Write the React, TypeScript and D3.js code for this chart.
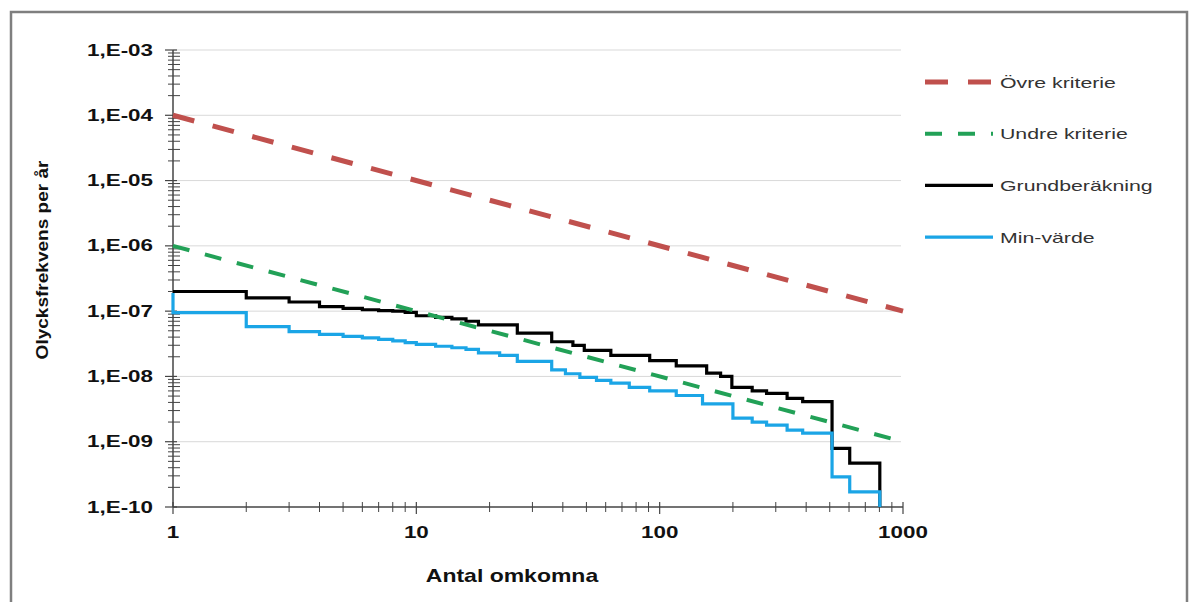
import * as d3 from "d3";
import { useEffect, useRef } from "react";

// kriterielinjer (antal omkomna -> frekvens per år)
const kriterieN = [1, 1000];
const ovreKriterie = [1e-4, 1e-7];
const undreKriterie = [1e-6, 1e-9];

// Grundberäkning, trappsteg (N där steget börjar, frekvens)
const grundN = [1, 2, 3, 4, 5, 6, 7, 8, 9, 10, 12, 14, 16, 18, 26, 36, 44, 49, 63, 91, 117, 156, 178, 198, 240, 275, 334, 387, 511, 604, 803];
const grundF = [2.0e-7, 1.6e-7, 1.38e-7, 1.17e-7, 1.1e-7, 1.05e-7, 1.02e-7, 1.0e-7, 9.6e-8, 8.5e-8, 8.0e-8, 7.6e-8, 7.0e-8, 6.15e-8, 4.6e-8, 3.4e-8, 3.0e-8, 2.5e-8, 2.1e-8, 1.75e-8, 1.45e-8, 1.12e-8, 1.0e-8, 6.8e-9, 6.0e-9, 5.5e-9, 4.6e-9, 4.1e-9, 7.9e-10, 4.7e-10, 1e-10];

// Min-värde
const minN = [1, 1, 2, 3, 4, 5, 6, 7, 8, 9, 10, 12, 14, 16, 18, 22, 26, 36, 41, 47, 55, 63, 75, 91, 117, 150, 200, 240, 275, 334, 387, 511, 604, 803];
const minF = [1.9e-7, 9.5e-8, 5.8e-8, 4.85e-8, 4.4e-8, 4.1e-8, 3.9e-8, 3.7e-8, 3.5e-8, 3.3e-8, 3.1e-8, 2.9e-8, 2.75e-8, 2.6e-8, 2.3e-8, 2.1e-8, 1.7e-8, 1.26e-8, 1.1e-8, 9.7e-9, 8.7e-9, 7.9e-9, 6.8e-9, 6.0e-9, 5.1e-9, 3.8e-9, 2.3e-9, 2.0e-9, 1.8e-9, 1.5e-9, 1.35e-9, 2.9e-10, 1.7e-10, 1e-10];

// axlar
const xTicks = [1, 10, 100, 1000];
const xTickLabels = ["1", "10", "100", "1000"];
const yTicks = [1e-10, 1e-9, 1e-8, 1e-7, 1e-6, 1e-5, 1e-4, 1e-3];
const yTickLabels = ["1,E-10", "1,E-09", "1,E-08", "1,E-07", "1,E-06", "1,E-05", "1,E-04", "1,E-03"];

const legendLabels = ["Övre kriterie", "Undre kriterie", "Grundberäkning", "Min-värde"];

const FONT = "'Liberation Sans', Arial, Helvetica, sans-serif";

const App = () => {
    const chartRef = useRef<SVGSVGElement>(null);

    useEffect(() => {
        const svg = d3.select(chartRef.current);
        svg.selectAll("*").remove();

        // plotområdets kanter
        const margin = { top: 50, bottom: 507, left: 173, right: 903 };

        const scaleX = d3.scaleLog().domain([1, 1000]).range([margin.left, margin.right]);
        const scaleY = d3.scaleLog().domain([1e-10, 1e-3]).range([margin.bottom, margin.top]);

        // text som är lite utdragen i bredd, som i förlagan
        const addText = (x: number, y: number, txt: string, size: number, weight: string, anchor: string, sx: number, fill = "#111") =>
            svg.append("text")
                .attr("transform", `translate(${x},${y}) scale(${sx},1)`)
                .attr("text-anchor", anchor)
                .style("font-family", FONT)
                .style("font-size", `${size}px`)
                .style("font-weight", weight)
                .style("fill", fill)
                .text(txt);

        // ram
        svg.append("rect")
            .attr("x", 11).attr("y", 12)
            .attr("width", 1176).attr("height", 620)
            .style("fill", "white")
            .style("stroke", "#7f7f7f")
            .style("stroke-width", 2.5);

        // stödlinjer
        svg.append("g")
            .selectAll("line")
            .data(yTicks.slice(1))
            .enter()
            .append("line")
            .attr("x1", margin.left).attr("x2", margin.right - 2)
            .attr("y1", d => scaleY(d)).attr("y2", d => scaleY(d))
            .style("stroke", "#d9d9d9")
            .style("stroke-width", 1);

        // y-axel
        const axisColor = "#444";
        svg.append("line")
            .attr("x1", margin.left).attr("x2", margin.left)
            .attr("y1", margin.top).attr("y2", margin.bottom)
            .style("stroke", axisColor).style("stroke-width", 1.5);

        const yMinor = scaleY.ticks().filter(t => !yTicks.some(m => Math.abs(m - t) / m < 1e-6));
        svg.append("g")
            .selectAll("line")
            .data(yMinor)
            .enter()
            .append("line")
            .attr("x1", margin.left - 5).attr("x2", margin.left + 7)
            .attr("y1", d => scaleY(d)).attr("y2", d => scaleY(d))
            .style("stroke", axisColor).style("stroke-width", 1);

        svg.append("g")
            .selectAll("line")
            .data(yTicks)
            .enter()
            .append("line")
            .attr("x1", margin.left - 8).attr("x2", margin.left + 4)
            .attr("y1", d => scaleY(d)).attr("y2", d => scaleY(d))
            .style("stroke", axisColor).style("stroke-width", 1.2);

        yTicks.forEach((t, i) => {
            addText(153, scaleY(t) + 5.5, yTickLabels[i], 16, "bold", "end", 1.4);
        });

        // x-axel
        svg.append("line")
            .attr("x1", margin.left).attr("x2", margin.right)
            .attr("y1", margin.bottom).attr("y2", margin.bottom)
            .style("stroke", axisColor).style("stroke-width", 1.5);

        const xMinor = scaleX.ticks().filter(t => !xTicks.includes(t));
        svg.append("g")
            .selectAll("line")
            .data(xMinor)
            .enter()
            .append("line")
            .attr("x1", d => scaleX(d)).attr("x2", d => scaleX(d))
            .attr("y1", margin.bottom - 5).attr("y2", margin.bottom + 5)
            .style("stroke", axisColor).style("stroke-width", 1);

        svg.append("g")
            .selectAll("line")
            .data(xTicks)
            .enter()
            .append("line")
            .attr("x1", d => scaleX(d)).attr("x2", d => scaleX(d))
            .attr("y1", margin.bottom - 5).attr("y2", margin.bottom + 7)
            .style("stroke", axisColor).style("stroke-width", 1.2);

        xTicks.forEach((t, i) => {
            addText(scaleX(t), 538, xTickLabels[i], 16, "bold", "middle", 1.4);
        });

        // axeltitlar
        addText(512, 582, "Antal omkomna", 19, "bold", "middle", 1.21);
        svg.append("text")
            .attr("transform", `translate(48,260) rotate(-90) scale(1.12,1)`)
            .attr("text-anchor", "middle")
            .style("font-family", FONT)
            .style("font-size", "17px")
            .style("font-weight", "bold")
            .style("fill", "#111")
            .text("Olycksfrekvens per år");

        // serier
        const stepLine = d3.line<[number, number]>()
            .x(d => scaleX(d[0]))
            .y(d => scaleY(d[1]))
            .curve(d3.curveStepAfter);
        const straight = d3.line<[number, number]>()
            .x(d => scaleX(d[0]))
            .y(d => scaleY(d[1]));

        const series = [
            { pts: grundN.map((n, i) => [n, grundF[i]] as [number, number]), gen: stepLine, color: "#000000", w: 3.2, dash: null },
            { pts: minN.map((n, i) => [n, minF[i]] as [number, number]), gen: stepLine, color: "#1ba5e6", w: 3.2, dash: null },
            { pts: kriterieN.map((n, i) => [n, undreKriterie[i]] as [number, number]), gen: straight, color: "#22a157", w: 4, dash: "17,16" },
            { pts: kriterieN.map((n, i) => [n, ovreKriterie[i]] as [number, number]), gen: straight, color: "#c0504d", w: 5, dash: "22,19" },
        ];
        series.forEach(s => {
            svg.append("path")
                .attr("d", s.gen(s.pts))
                .style("fill", "none")
                .style("stroke", s.color)
                .style("stroke-width", s.w)
                .style("stroke-dasharray", s.dash)
                .style("stroke-linejoin", "miter");
        });

        // förklaring
        const legendStyle = [
            { color: "#c0504d", w: 5, dash: "23,20" },
            { color: "#22a157", w: 4, dash: "17,16" },
            { color: "#000000", w: 3.2, dash: null },
            { color: "#1ba5e6", w: 3.2, dash: null },
        ];
        legendLabels.forEach((lab, i) => {
            const ly = 82 + i * 51.7;
            svg.append("line")
                .attr("x1", 925).attr("x2", 993)
                .attr("y1", ly).attr("y2", ly)
                .style("stroke", legendStyle[i].color)
                .style("stroke-width", legendStyle[i].w)
                .style("stroke-dasharray", legendStyle[i].dash);
            addText(1000, ly + 5.5, lab, 15, "normal", "start", 1.42, "#333");
        });
    }, []);

    return (
        <svg ref={chartRef} width={1195} height={602}
            style={{ position: "absolute", left: 0, top: 0, background: "#fff" }} />
    );
};

export default App;
